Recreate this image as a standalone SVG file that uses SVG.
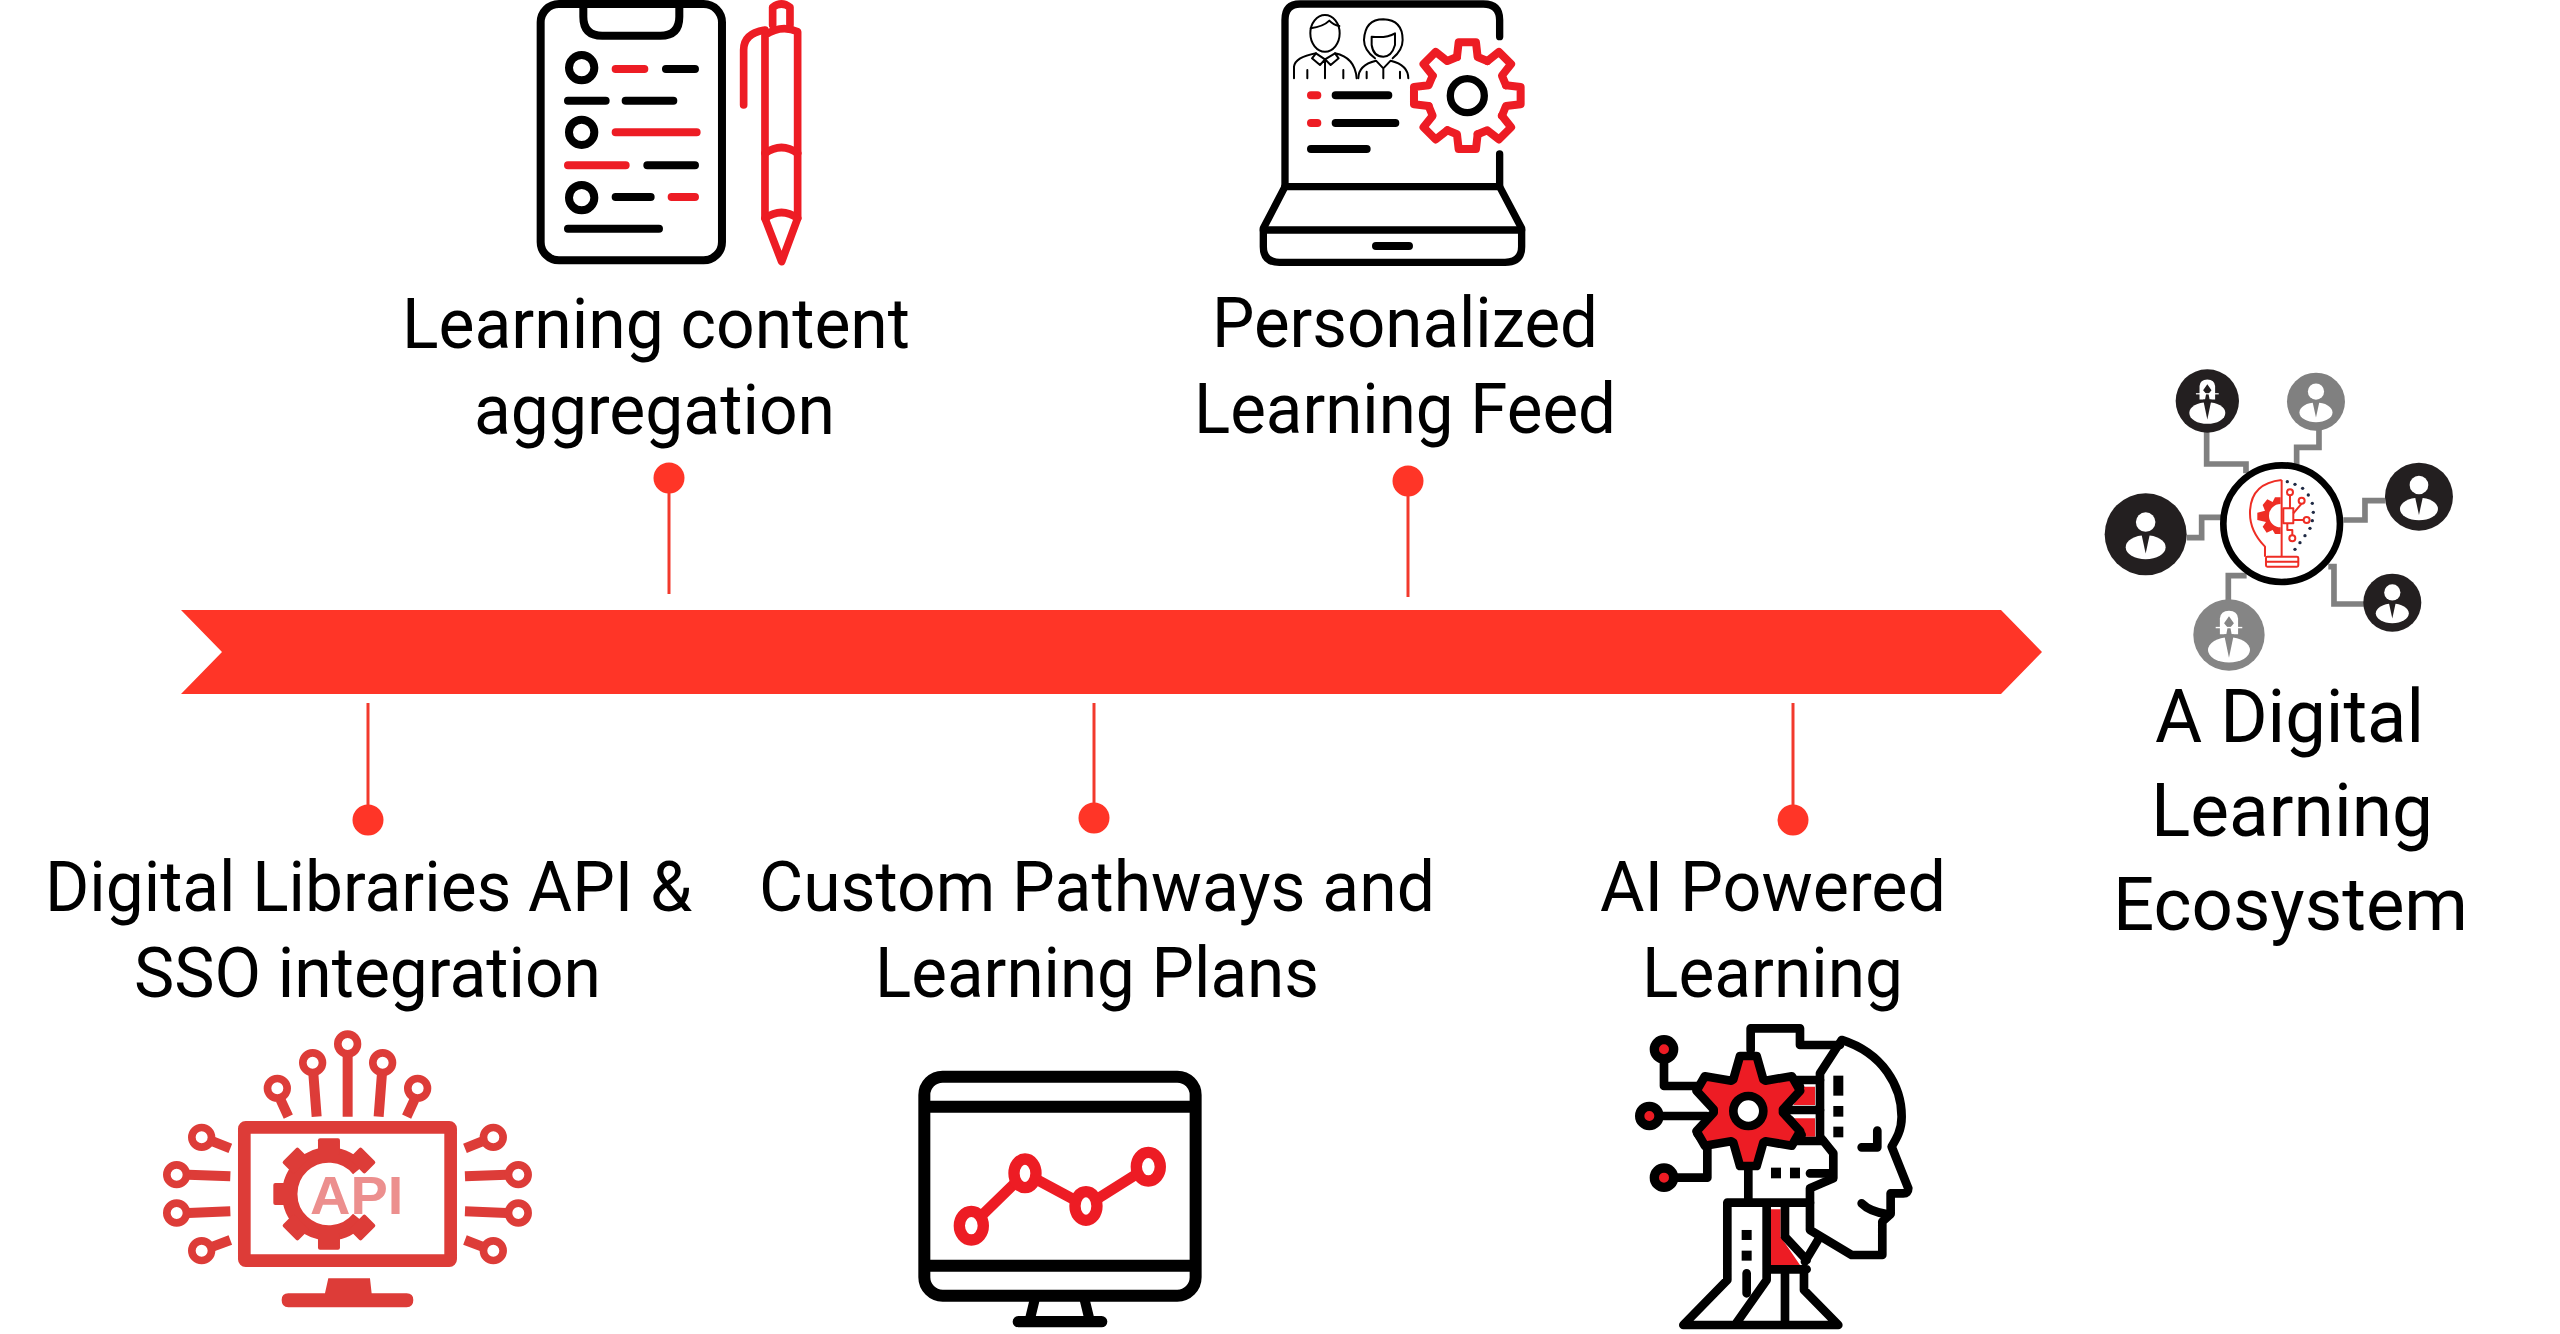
<svg xmlns="http://www.w3.org/2000/svg" xmlns:xlink="http://www.w3.org/1999/xlink" width="2560" height="1334" viewBox="0 0 2560 1334">
<style>
.t{font-family:"Roboto","Open Sans",sans-serif;font-weight:400;font-size:70px;fill:#000}
.t2{font-size:75px}
.bar{fill:#ff3527}
.lead{stroke:#f2392c;stroke-width:3;fill:none}
.k{fill:none;stroke:#000;stroke-linecap:round;stroke-linejoin:round}
.r{fill:none;stroke:#ed1c24;stroke-linecap:round;stroke-linejoin:round}
.kf{fill:#000}
.a{fill:none;stroke:#dd3c38;stroke-width:30}
.af{fill:#dd3c38}
.g{fill:none;stroke:#808080;stroke-width:17}
.ring{fill:#fff;stroke:#dd3c38;stroke-width:23}
</style>
<defs>
<path id="tooth" d="M-31,-116 L-26,-160 L26,-160 L31,-116 L60,-104"/>
<rect id="atooth" x="-33" y="-167" width="66" height="50" rx="6"/>
<g id="man"><circle cx="0" cy="-35" r="28" fill="#fff"/><ellipse cx="0" cy="37" rx="57" ry="34" fill="#fff"/><path d="M-13,-5 L13,-5 L0,55 Z" fill="currentColor"/></g>
<g id="woman"><path d="M-26,-50 Q-24,-72 0,-72 Q24,-72 26,-50 V-5 H-26 Z" fill="#fff"/><path d="M0,-56 L14,-36 L4,-24 L14,30 H-14 L-4,-24 L-14,-36 Z" fill="currentColor"/><path d="M-38,-24 H38" stroke="#fff" stroke-width="4"/><ellipse cx="0" cy="40" rx="60" ry="36" fill="#fff"/><path d="M-14,-5 L14,-5 L0,62 Z" fill="currentColor"/></g>
</defs>
<rect width="2560" height="1334" fill="#fff"/>

<g id="connectors">
<path class="lead" d="M669,480V594"/><path class="lead" d="M1408,482V597"/>
<path class="lead" d="M368,703V815"/><path class="lead" d="M1094,703V815"/><path class="lead" d="M1793,703V815"/>
</g>

<g id="timeline-arrow"><polygon class="bar" points="181,610 2001,610 2042,652 2001,694 181,694 222,652"/></g>

<g id="node-content-aggregation">
<circle class="bar" cx="669" cy="478" r="15.5"/>
<text class="t" x="402" y="348" textLength="508" lengthAdjust="spacingAndGlyphs">Learning content</text>
<text class="t" x="474" y="434" textLength="361" lengthAdjust="spacingAndGlyphs">aggregation</text>
<g transform="translate(500,0) scale(0.3333)">
<rect class="k" stroke-width="24" x="122" y="12" width="544" height="769" rx="55"/>
<path class="k" stroke-width="24" d="M250,5 V50 Q250,107 307,107 H481 Q538,107 538,50 V5"/>
<g class="k" stroke-width="24"><circle cx="245" cy="203" r="38"/><circle cx="245" cy="397" r="38"/><circle cx="245" cy="593" r="38"/>
<path d="M498,207H585M204,302H317M377,302H520M442,496H585M347,591H452M204,686H477"/></g>
<path class="r" stroke-width="24" d="M347,207H433M347,397H590M204,496H377M515,591H585"/>
<g class="r" stroke-width="23"><path d="M818,75 V22 Q845,2 870,22 V75"/><path d="M795,105 Q845,72 893,95 V655 L845,785 L795,655 Z"/><path d="M795,460 Q845,425 893,460M795,655 Q845,620 893,655"/><path d="M731,315 V150 Q731,100 795,90"/></g>
</g>
</g>

<g id="node-personalized-feed">
<circle class="bar" cx="1408" cy="481" r="15.5"/>
<text class="t" x="1212" y="347" textLength="386" lengthAdjust="spacingAndGlyphs">Personalized</text>
<text class="t" x="1194" y="433" textLength="422" lengthAdjust="spacingAndGlyphs">Learning Feed</text>
<g transform="translate(1240,0) scale(0.3333)">
<g class="k" stroke-width="22"><path d="M779,110 V60 Q779,12 730,12 H180 Q135,12 135,60 V560"/><path d="M779,462 V560 H135"/><path d="M135,560 L70,685 V740 Q70,787 118,787 H795 Q845,787 845,740 V685 L779,560"/><path d="M70,690 H845"/><path stroke-width="24" d="M408,738 H507M287,286 H445M287,369 H466M213,447 H380"/></g>
<path class="r" stroke-width="24" d="M213,286 H232M213,369 H232"/>
<g class="k" stroke-width="6"><ellipse cx="255" cy="100" rx="44" ry="55"/><path d="M212,85 Q250,80 268,62 Q280,75 298,78"/><path d="M162,235 V200 Q165,172 228,160 L255,178 L285,160 Q345,172 350,235"/><path d="M228,160 L216,175 L240,195 L255,178 L272,195 L296,175 L285,160M255,178 V235M202,210V235M310,210V235"/>
<path d="M405,175 Q372,150 372,120 Q375,58 430,58 Q488,60 488,120 Q488,150 458,175"/><path d="M395,110 Q440,115 465,100 V135 Q455,170 430,170 Q400,170 395,135 Z"/><path d="M355,235 Q355,195 408,182 L430,205 L452,182 Q505,195 505,235M430,205V235M380,215V235M480,215V235"/></g>
<g transform="translate(682,287)"><g class="r" stroke-width="24"><use xlink:href="#tooth" href="#tooth"/><use xlink:href="#tooth" href="#tooth" transform="rotate(45)"/><use xlink:href="#tooth" href="#tooth" transform="rotate(90)"/><use xlink:href="#tooth" href="#tooth" transform="rotate(135)"/><use xlink:href="#tooth" href="#tooth" transform="rotate(180)"/><use xlink:href="#tooth" href="#tooth" transform="rotate(225)"/><use xlink:href="#tooth" href="#tooth" transform="rotate(270)"/><use xlink:href="#tooth" href="#tooth" transform="rotate(315)"/></g><circle class="k" stroke-width="22" r="51"/></g>
</g>
</g>

<g id="node-digital-libraries">
<circle class="bar" cx="368" cy="820" r="15.5"/>
<text class="t" x="45" y="911" textLength="647" lengthAdjust="spacingAndGlyphs">Digital Libraries API &amp;</text>
<text class="t" x="134" y="997" textLength="467" lengthAdjust="spacingAndGlyphs">SSO integration</text>
<g transform="translate(150,1020) scale(0.3333)">
<rect fill="none" stroke="#dd3c38" stroke-width="38" x="283" y="322" width="619" height="400" rx="4"/>
<path class="af" d="M535,775 H660 L665,820 H770 Q790,820 790,840 Q790,862 770,862 H415 Q395,862 395,840 Q395,820 415,820 H525 Z"/>
<g transform="translate(537,522)"><path fill="none" stroke="#dd3c38" stroke-width="46" d="M90,-74 A117,117 0 1 0 90,74"/><g class="af"><use xlink:href="#atooth" href="#atooth"/><use xlink:href="#atooth" href="#atooth" transform="rotate(45)"/><use xlink:href="#atooth" href="#atooth" transform="rotate(-45)"/><use xlink:href="#atooth" href="#atooth" transform="rotate(-90)"/><use xlink:href="#atooth" href="#atooth" transform="rotate(-135)"/><use xlink:href="#atooth" href="#atooth" transform="rotate(135)"/><use xlink:href="#atooth" href="#atooth" transform="rotate(180)"/></g></g>
<text x="480" y="582" font-family="Liberation Sans, sans-serif" font-weight="700" font-size="163" fill="#ec8f8e" textLength="280" lengthAdjust="spacingAndGlyphs">API</text>
<path class="a" d="M593,105V290M490,160L500,290M696,160L686,290M392,240L415,290M793,240L770,290M190,365L241,385M115,464L241,469M115,579L241,574M190,679L241,660M995,365L945,385M1070,464L945,469M1070,579L945,574M995,679L945,660"/>
<circle class="ring" cx="593" cy="72" r="29.5"/><circle class="ring" cx="488" cy="128" r="29.5"/><circle class="ring" cx="698" cy="128" r="29.5"/><circle class="ring" cx="382" cy="205" r="29.5"/><circle class="ring" cx="803" cy="205" r="29.5"/><circle class="ring" cx="155" cy="352" r="29.5"/><circle class="ring" cx="80" cy="464" r="29.5"/><circle class="ring" cx="80" cy="579" r="29.5"/><circle class="ring" cx="155" cy="692" r="29.5"/><circle class="ring" cx="1030" cy="352" r="29.5"/><circle class="ring" cx="1105" cy="464" r="29.5"/><circle class="ring" cx="1105" cy="579" r="29.5"/><circle class="ring" cx="1030" cy="692" r="29.5"/>
</g>
</g>

<g id="node-custom-pathways">
<circle class="bar" cx="1094" cy="818" r="15.5"/>
<text class="t" x="759" y="911" textLength="676" lengthAdjust="spacingAndGlyphs">Custom Pathways and</text>
<text class="t" x="875" y="997" textLength="444" lengthAdjust="spacingAndGlyphs">Learning Plans</text>
<g transform="translate(900,1050) scale(0.3333)">
<g class="k" stroke-width="36"><rect x="73" y="80" width="814" height="657" rx="55"/><path stroke-linecap="butt" d="M73,170H887M73,647H887"/><path stroke-width="30" stroke-linecap="butt" d="M405,745L388,815M553,745L570,815"/><path stroke-width="34" d="M355,815H605"/></g>
<polyline class="r" stroke-width="32" points="214,527 375,370 558,468 745,350"/>
<g fill="#fff" stroke="#ed1c24" stroke-width="34"><ellipse cx="214" cy="527" rx="36" ry="43"/><ellipse cx="375" cy="370" rx="33" ry="43"/><ellipse cx="558" cy="468" rx="33" ry="43"/><ellipse cx="745" cy="350" rx="36" ry="43"/></g>
</g>
</g>

<g id="node-ai-powered">
<circle class="bar" cx="1793" cy="820" r="15.5"/>
<text class="t" x="1600" y="911" textLength="346" lengthAdjust="spacingAndGlyphs">AI Powered</text>
<text class="t" x="1642" y="997" textLength="261" lengthAdjust="spacingAndGlyphs">Learning</text>
<g transform="translate(1620,1010) scale(0.3333)">
<polygon fill="#ed1c24" points="550,230 585,230 585,285 520,285"/><polygon fill="#ed1c24" points="520,325 585,325 585,380 550,380"/><polygon fill="#ed1c24" points="452,598 482,598 482,680 540,765 452,765"/>
<g class="k" stroke-width="26">
<path d="M665,90 C790,130 845,230 845,320 C845,360 830,385 815,410 L865,535 Q865,550 850,550 H812 V612 L787,635 V735 H695 L570,660 V535 L640,505 V430 L600,380 V190 L665,90"/>
<path d="M725,580 Q750,605 800,612M772,362 V412 H725"/>
<path d="M392,120 V55 H540 V105 H660M600,210 H515M505,300 H600M540,230 L505,280M510,330 L545,375M530,393 H610"/>
<path d="M132,150 V228 H240M125,318 H260M170,503 H262 V410 L232,370"/>
<path d="M385,480 V578M322,578 H570M322,578 V810 L190,945 H655 L552,840 V780M440,580 V810 L345,945M495,790 V945M380,790 V850M495,580 V680 L560,750M600,680 L555,755M440,778 H560M570,490 H625"/>
</g>
<g class="kf"><rect x="640" y="197" width="30" height="60"/><rect x="640" y="288" width="30" height="32"/><rect x="640" y="350" width="30" height="32"/><rect x="453" y="473" width="30" height="32"/><rect x="510" y="473" width="30" height="32"/><rect x="365" y="660" width="30" height="30"/><rect x="365" y="722" width="30" height="30"/></g>
<polygon transform="translate(385,303)" fill="#ed1c24" stroke="#000" stroke-width="26" stroke-linejoin="round" points="-45,-95 -25,-165 25,-165 45,-95 51.1,-91 130.4,-104.2 155.4,-60.8 104,-5 104,5 155.4,60.8 130.4,104.2 51.1,91 45,95 25,165 -25,165 -45,95 -51.1,91 -130.4,104.2 -155.4,60.8 -104,5 -104,-5 -155.4,-60.8 -130.4,-104.2 -51.1,-91"/>
<circle cx="385" cy="303" r="45" fill="#fff" stroke="#000" stroke-width="26"/>
<g fill="#ed1c24" stroke="#000" stroke-width="28"><circle cx="132" cy="118" r="29"/><circle cx="88" cy="318" r="29"/><circle cx="132" cy="503" r="29"/></g>
</g>
</g>

<g id="node-ecosystem">
<text class="t t2" x="2155" y="742" textLength="269" lengthAdjust="spacingAndGlyphs">A Digital</text>
<text class="t t2" x="2151" y="836" textLength="282" lengthAdjust="spacingAndGlyphs">Learning</text>
<text class="t t2" x="2113" y="930" textLength="355" lengthAdjust="spacingAndGlyphs">Ecosystem</text>
<g transform="translate(2080,350) scale(0.3333)">
<path class="g" d="M380,245 V342 H498 V370M717,235 V292 H650 V345M915,452 H855 V510 H790M320,563 H365 V502 H425M445,750 V677 H500M745,650 H762 V762 H855"/>
<circle cx="605" cy="521" r="175" fill="#fff" stroke="#000" stroke-width="20"/>
<g color="#231f20"><circle cx="382" cy="153" r="95" fill="#231f20"/><use xlink:href="#woman" href="#woman" transform="translate(382,153) scale(0.9)"/></g>
<g color="#808080"><circle cx="708" cy="155" r="87" fill="#808080"/><use xlink:href="#man" href="#man" transform="translate(708,155) scale(0.87)"/></g>
<g color="#231f20"><circle cx="1017" cy="440" r="102" fill="#231f20"/><use xlink:href="#man" href="#man" transform="translate(1017,440)"/></g>
<g color="#231f20"><circle cx="197" cy="553" r="123" fill="#231f20"/><use xlink:href="#man" href="#man" transform="translate(197,553) scale(1.05)"/></g>
<g color="#231f20"><circle cx="937" cy="758" r="87" fill="#231f20"/><use xlink:href="#man" href="#man" transform="translate(937,758) scale(0.87)"/></g>
<g color="#858585"><circle cx="447" cy="855" r="107" fill="#858585"/><use xlink:href="#woman" href="#woman" transform="translate(447,858) scale(1.05)"/></g>
<g fill="none" stroke="#ee2d24" stroke-width="6" stroke-linejoin="round">
<path d="M605,390 Q510,400 510,490 Q510,545 555,590 V620"/><path d="M605,390 V620"/><rect x="558" y="620" width="97" height="30" rx="4"/><path d="M558,635H655"/>
<rect x="610" y="475" width="30" height="45"/><path d="M630,436 V475M665,461 L640,490M671,510 H640M637,556 V540 H622 V520"/>
<circle cx="630" cy="427" r="9"/><circle cx="665" cy="452" r="9"/><circle cx="680" cy="510" r="9"/><circle cx="637" cy="565" r="9"/>
</g>
<path fill="#ee2d24" d="M602,462 A35,35 0 0 0 602,532 V552 H585 L578,540 L560,548 L548,530 L558,516 L532,510 V488 L555,482 L548,465 L562,448 L578,456 L585,442 H602 Z"/>
<g fill="#1f2a44"><circle cx="622" cy="395" r="5"/><circle cx="645" cy="403" r="5"/><circle cx="668" cy="415" r="5"/><circle cx="685" cy="435" r="5"/><circle cx="697" cy="460" r="5"/><circle cx="700" cy="487" r="5"/><circle cx="697" cy="512" r="5"/><circle cx="690" cy="535" r="5"/><circle cx="675" cy="557" r="5"/><circle cx="660" cy="578" r="5"/><circle cx="645" cy="598" r="5"/></g>
</g>
</g>
</svg>
